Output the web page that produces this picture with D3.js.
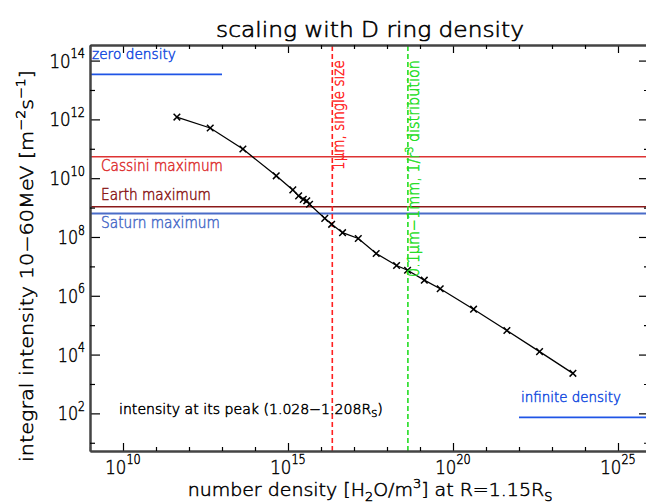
<!DOCTYPE html>
<html><head><meta charset="utf-8">
<script src="https://cdn.jsdelivr.net/npm/d3@7"></script>
<style>body{margin:0;background:#fff} svg{display:block}</style>
</head><body>
<svg id="c" width="646" height="504"></svg>
<script>
// ---- data ----
const density   = [4.3e11, 4.4e12, 4.3e13, 4.4e14, 1.4e15, 2.1e15, 2.9e15, 3.7e15, 4.5e15, 1.3e16, 2.1e16, 4.5e16, 1.35e17, 4.7e17, 1.95e18, 4.2e18, 1.35e19, 4.1e19, 4.2e20, 4.3e21, 4.2e22, 4.3e23];
const intensity = [1.2e12, 5.1e11, 9.8e10, 1.2e10, 4.0e9, 2.5e9, 1.9e9, 1.7e9, 1.3e9, 4.3e8, 2.7e8, 1.4e8, 8.9e7, 2.75e7, 1.07e7, 7.4e6, 3.4e6, 1.74e6, 3.5e5, 6.6e4, 1.26e4, 2.3e3];
const refLabels = ["Cassini maximum", "Earth maximum", "Saturn maximum"];
const refValues = [5.4e10, 1.06e9, 6.3e8];
const limitLabels = ["zero density", "infinite density"];
const limitValues = [3.4e13, 73];
const limitFrom = [1e9, 1e22];
const limitTo = [1e13, 8.7e25];
const sizeLabels = ["1μm, single size", "0.1μm−1mm, 1/r³ distribution"];
const sizeValues = [2.2e16, 4.3e18];
const xMajor = [1e10, 1e15, 1e20, 1e25];
const xMajorExp = ["10", "15", "20", "25"];
const yMajor = [1e2, 1e4, 1e6, 1e8, 1e10, 1e12, 1e14];
const yMajorExp = ["2", "4", "6", "8", "10", "12", "14"];
const xDomain = [1e9, 8.7e25];
const yDomain = [5.25, 3.39e14];

// ---- styles ----
const FONT = "DejaVu Sans";
const WEIGHT = 200;
const refColors = ["#dd3333", "#8b1a1a", "#4a6cc8"];
const limitColors = ["#1f55e6", "#1f55e6"];
const sizeColors = ["#ff2020", "#22dd22"];

const L = 90, R = 649, T = 45, B = 451;
const svg = d3.select("#c");
svg.append("rect").attr("width", 646).attr("height", 504).attr("fill", "#fff");

const x = d3.scaleLog().domain(xDomain).range([L, R]);
const y = d3.scaleLog().domain(yDomain).range([B, T]);

function rich(parent, parts, o) {
  const col = o.color || "#000";
  const g = parent.append("g").attr("transform", `translate(${o.x},${o.y}) rotate(${o.rot || 0})`);
  const t = g.append("text").attr("text-anchor", o.anchor || "start")
    .attr("font-family", FONT).attr("font-weight", WEIGHT)
    .attr("font-size", o.size).attr("fill", col)
    .attr("stroke", col).attr("stroke-width", o.sw || 0.5);
  let shift = 0;
  parts.forEach(p => {
    const [str, kind] = Array.isArray(p) ? p : [p, null];
    const fs = kind ? o.size * (o.subScale || 0.68) : o.size;
    const target = kind === "sup" ? -o.size * (o.supShift || 0.42) : kind === "sub" ? o.size * 0.25 : 0;
    t.append("tspan").attr("font-size", fs).attr("dy", target - shift).text(str);
    shift = target;
  });
  if (o.width) {
    const w = t.node().getComputedTextLength();
    t.attr("transform", `scale(${o.width / w},1)`);
  }
  return t;
}

const plot = svg.append("g");
// horizontal reference lines
refValues.forEach((v, i) => {
  plot.append("line").attr("x1", x(xDomain[0])).attr("x2", x(xDomain[1]))
    .attr("y1", y(v)).attr("y2", y(v)).attr("stroke", refColors[i]).attr("stroke-width", i === 2 ? 2 : 1.5);
});
limitValues.forEach((v, i) => {
  plot.append("line").attr("x1", x(limitFrom[i])).attr("x2", x(limitTo[i]))
    .attr("y1", y(v)).attr("y2", y(v)).attr("stroke", limitColors[i]).attr("stroke-width", 1.8);
});
// vertical dashed lines
sizeValues.forEach((v, i) => {
  plot.append("line").attr("x1", x(v)).attr("x2", x(v)).attr("y1", y(yDomain[0])).attr("y2", y(yDomain[1]))
    .attr("stroke", sizeColors[i]).attr("stroke-width", 1.6).attr("stroke-dasharray", "5,3");
});

// data line
const pts = density.map((d, i) => [d, intensity[i]]);
plot.append("path").datum(pts)
  .attr("d", d3.line().x(d => x(d[0])).y(d => y(d[1])))
  .attr("fill", "none").attr("stroke", "#000").attr("stroke-width", 1.3);
const s = 3.3;
plot.selectAll("path.m").data(pts).join("path").attr("class", "m")
  .attr("d", d => { const cx = x(d[0]), cy = y(d[1]);
    return `M${cx - s},${cy - s}L${cx + s},${cy + s}M${cx - s},${cy + s}L${cx + s},${cy - s}`; })
  .attr("stroke", "#000").attr("stroke-width", 1.5);

// annotations
rich(svg, [limitLabels[0]], {x: 92, y: 59, size: 14, color: "#1a4fe0", width: 84});
rich(svg, [limitLabels[1]], {x: 521, y: 402, size: 14, color: "#1a4fe0", width: 100});
const refTextY = [171, 199.5, 228];
const refTextW = [122, 110, 119];
refLabels.forEach((lab, i) => rich(svg, [lab], {x: 101, y: refTextY[i], size: 15, color: refColors[i], width: refTextW[i]}));
rich(svg, ["intensity at its peak (1.028−1.208R", ["S", "sub"], ")"], {x: 119, y: 413.5, size: 14, width: 264});
rich(svg, [sizeLabels[0]], {x: 343.5, y: 170, rot: -90, size: 15.5, color: sizeColors[0], width: 110});
rich(svg, ["0.1μm−1mm, 1/r", ["3", "sup"], " distribution"], {x: 419, y: 277, rot: -90, size: 15.5, color: sizeColors[1], width: 217});

// axes
const xMinor = d3.range(9, 26).map(e => Math.pow(10, e)).filter(v => !xMajor.includes(v));
const yMinor = d3.range(1, 15).map(e => Math.pow(10, e)).filter(v => !yMajor.includes(v));
const axisCol = "#444";
function styleAxis(g) {
  g.select(".domain").attr("stroke", axisCol).attr("stroke-width", 2);
  g.selectAll(".tick line").attr("stroke", "#000").attr("stroke-width", 1.2);
}
svg.append("g").attr("transform", `translate(0,${B})`).call(d3.axisBottom(x).tickValues(xMajor).tickSize(-8).tickSizeOuter(0).tickFormat("")).call(styleAxis);
svg.append("g").attr("transform", `translate(0,${B})`).call(d3.axisBottom(x).tickValues(xMinor).tickSize(-4).tickSizeOuter(0).tickFormat("")).call(styleAxis);
svg.append("g").attr("transform", `translate(0,${T})`).call(d3.axisTop(x).tickValues(xMajor).tickSize(-8).tickSizeOuter(0).tickFormat("")).call(styleAxis);
svg.append("g").attr("transform", `translate(0,${T})`).call(d3.axisTop(x).tickValues(xMinor).tickSize(-4).tickSizeOuter(0).tickFormat("")).call(styleAxis);
svg.append("g").attr("transform", `translate(${L},0)`).call(d3.axisLeft(y).tickValues(yMajor).tickSize(-10).tickSizeOuter(0).tickFormat("")).call(styleAxis);
svg.append("g").attr("transform", `translate(${L},0)`).call(d3.axisLeft(y).tickValues(yMinor).tickSize(-5).tickSizeOuter(0).tickFormat("")).call(styleAxis);
svg.append("g").attr("transform", `translate(${R},0)`).call(d3.axisRight(y).tickValues(yMajor).tickSize(-10).tickSizeOuter(0).tickFormat("")).call(styleAxis);
svg.append("g").attr("transform", `translate(${R},0)`).call(d3.axisRight(y).tickValues(yMinor).tickSize(-5).tickSizeOuter(0).tickFormat("")).call(styleAxis);

// tick labels
xMajor.forEach((v, i) => rich(svg, ["10", [xMajorExp[i], "sup"]], {x: x(v), y: 474, anchor: "middle", size: 20, supShift: 0.5, width: 19 + 8.3 * xMajorExp[i].length}));
yMajor.forEach((v, i) => rich(svg, ["10", [yMajorExp[i], "sup"]], {x: 85, y: y(v) + 7, anchor: "end", size: 20, supShift: 0.47, width: 19 + 8.3 * yMajorExp[i].length}));

// titles
rich(svg, ["scaling with D ring density"], {x: 370, y: 37, anchor: "middle", size: 22, width: 308, sw: 0.6});
rich(svg, ["number density [H", ["2", "sub"], "O/m", ["3", "sup"], "] at R=1.15R", ["S", "sub"]], {x: 370, y: 496, anchor: "middle", size: 18, width: 365});
rich(svg, ["integral intensity 10−60MeV [m", ["−2", "sup"], "s", ["−1", "sup"], "]"], {x: 33, y: 266, rot: -90, anchor: "middle", size: 18, width: 392});
</script>
</body></html>
